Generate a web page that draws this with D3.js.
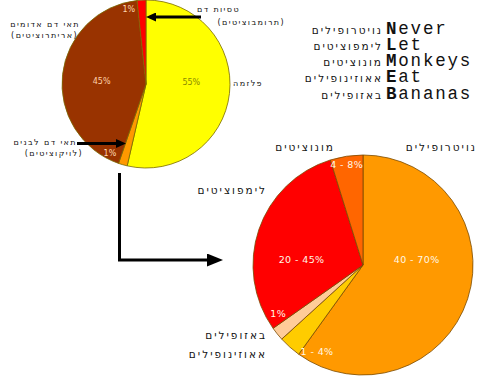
<!DOCTYPE html>
<html>
<head>
<meta charset="utf-8">
<script src="https://cdn.jsdelivr.net/npm/d3@7"></script>
<style>
  body { margin: 0; background: #fff; }
  svg { display: block; }
  .heb { font-family: "DejaVu Sans", sans-serif; fill: #111; }
  .pct { font-family: "DejaVu Sans", Verdana, sans-serif; }
</style>
</head>
<body>
<svg width="480" height="380"></svg>
<script>
// blood composition (top pie)
var bloodParts = ["פלזמה", "תאי דם לבנים", "תאי דם אדומים", "טסיות דם"];
var bloodShare = [53.6, 1.7, 43, 1.7];
var bloodLabels = ["55%", "1%", "45%", "1%"];

// white cell types (bottom pie)
var cellTypes = ["נויטרופילים", "אאוזינופילים", "באזופילים", "לימפוציטים", "מונוציטים"];
var cellShare = [60, 3.3, 2, 30, 4.8];
var cellLabels = ["40 - 70%", "1 - 4%", "1%", "20 - 45%", "4 - 8%"];

// mnemonic
var mnemonicHeb = ["נויטרופילים", "לימפוציטים", "מונוציטים", "אאוזינופילים", "באזופילים"];
var mnemonicEng = ["Never", "Let", "Monkeys", "Eat", "Bananas"];

function drawChart(){
    var svg = d3.select("svg");

    var bloodColor = d3.scaleOrdinal().domain(bloodParts)
        .range(["#ffff00", "#ff9900", "#993300", "#ff0000"]);
    var cellColor = d3.scaleOrdinal().domain(cellTypes)
        .range(["#ff9900", "#ffcc00", "#ffcc99", "#ff0000", "#ff6600"]);

    var pie = d3.pie().sort(null).value(function(d){ return d.v; });

    // ---- top pie
    var top = {cx: 146, cy: 84, r: 84};
    var topData = pie(bloodParts.map(function(k, i){ return {k: k, v: bloodShare[i], lab: bloodLabels[i]}; }));
    var topArc = d3.arc().innerRadius(0).outerRadius(top.r);
    // label angle (deg) and radius fraction
    var topLabPos = [[88, .54], [207.5, .93], [274, .53], [347, .91]];
    var topLabCol = ["#8a8a00", "#ffd8b0", "#ffd0a8", "#ffd8b0"];

    var gTop = svg.append("g").attr("transform", "translate(" + top.cx + "," + top.cy + ")");
    gTop.selectAll("path").data(topData).enter().append("path")
        .attr("d", topArc)
        .attr("fill", function(d){ return bloodColor(d.data.k); })
        .attr("stroke", "#7a6a00")
        .attr("stroke-width", 0.8);
    gTop.selectAll("text").data(topData).enter().append("text")
        .attr("class", "pct")
        .attr("transform", function(d, i){
            var p = d3.pointRadial(topLabPos[i][0] * Math.PI / 180, topLabPos[i][1] * top.r);
            return "translate(" + p + ")"; })
        .attr("text-anchor", "middle")
        .attr("dy", "0.35em")
        .style("font-size", "8px")
        .attr("fill", function(d, i){ return topLabCol[i]; })
        .text(function(d){ return d.data.lab; });

    // ---- bottom pie
    var bot = {cx: 363, cy: 265, r: 110};
    var botData = pie(cellTypes.map(function(k, i){ return {k: k, v: cellShare[i], lab: cellLabels[i]}; }));
    var botArc = d3.arc().innerRadius(0).outerRadius(bot.r);
    var botLabPos = [[84.7, .49], [208, .89], [240, .89], [274.7, .56], [350.7, .92]];

    var gBot = svg.append("g").attr("transform", "translate(" + bot.cx + "," + bot.cy + ")");
    gBot.selectAll("path").data(botData).enter().append("path")
        .attr("d", botArc)
        .attr("fill", function(d){ return cellColor(d.data.k); })
        .attr("stroke", "#7a4a00")
        .attr("stroke-width", 0.8);
    gBot.selectAll("text").data(botData).enter().append("text")
        .attr("class", "pct")
        .attr("transform", function(d, i){
            var p = d3.pointRadial(botLabPos[i][0] * Math.PI / 180, botLabPos[i][1] * bot.r);
            return "translate(" + p + ")"; })
        .attr("text-anchor", "middle")
        .attr("dy", "0.35em")
        .style("font-size", "9.5px")
        .style("letter-spacing", "0.4px")
        .attr("fill", "#fff8e6")
        .text(function(d){ return d.data.lab; });

    // ---- hebrew callouts, right aligned (letter-spaced to look typewritten)
    var notes = [
        {t: "תאי דם אדומים", x: 80, y: 27, s: 8, ls: 1.4},
        {t: "(אריתרוציטים)", x: 78, y: 38, s: 8, ls: 1.4},
        {t: "טסיות דם", x: 240, y: 12, s: 8, ls: 1.4},
        {t: "(תרומבוציטים)", x: 285, y: 25, s: 8, ls: 1.4},
        {t: "פלזמה", x: 263, y: 85.5, s: 8, ls: 1.4},
        {t: "תאי דם לבנים", x: 77, y: 144.5, s: 8, ls: 1.4},
        {t: "(לויקוציטים)", x: 83, y: 156, s: 8, ls: 1.4},
        {t: cellTypes[0], x: 477, y: 151, s: 10.5, ls: 2},
        {t: cellTypes[4], x: 335, y: 151, s: 10.5, ls: 2},
        {t: cellTypes[3], x: 267, y: 194, s: 10.5, ls: 2},
        {t: cellTypes[2], x: 267, y: 338.5, s: 10.5, ls: 2},
        {t: cellTypes[1], x: 267, y: 358, s: 10.5, ls: 2}
    ];
    svg.append("g").selectAll("text").data(notes).enter().append("text")
        .attr("class", "heb")
        .attr("x", function(d){ return d.x; })
        .attr("y", function(d){ return d.y; })
        .attr("text-anchor", "end")
        .style("font-size", function(d){ return d.s + "px"; })
        .style("letter-spacing", function(d){ return d.ls + "px"; })
        .text(function(d){ return d.t; });

    // ---- mnemonic
    var mn = svg.append("g").selectAll("g").data(mnemonicEng).enter().append("g")
        .attr("transform", function(d, i){ return "translate(0," + (33.5 + i * 16.25) + ")"; });
    mn.append("text")
        .attr("class", "heb")
        .attr("x", 383)
        .attr("text-anchor", "end")
        .style("font-size", "10.5px")
        .style("letter-spacing", "2px")
        .text(function(d, i){ return mnemonicHeb[i]; });
    var eng = mn.append("text")
        .attr("x", 386)
        .style("font-family", "Liberation Mono, monospace")
        .style("font-size", "17.5px")
        .style("letter-spacing", "1.8px")
        .attr("fill", "#111");
    eng.append("tspan").style("font-weight", "bold").text(function(d){ return d.charAt(0); });
    eng.append("tspan").text(function(d){ return d.slice(1); });

    // ---- arrows
    var defs = svg.append("defs");
    function head(id, w, h){
        defs.append("marker")
            .attr("id", id)
            .attr("viewBox", "0 0 " + w + " " + (2 * h))
            .attr("refX", 0).attr("refY", h)
            .attr("markerUnits", "userSpaceOnUse")
            .attr("markerWidth", w).attr("markerHeight", 2 * h)
            .attr("orient", "auto")
          .append("path")
            .attr("d", "M0,0L" + w + "," + h + "L0," + (2 * h) + "Z")
            .attr("fill", "#000");
    }
    head("hSmall", 10, 4.5);
    head("hBig", 16, 6.5);

    var line = d3.line();
    svg.append("path")
        .attr("d", line([[201, 17], [156, 17]]))
        .attr("fill", "none").attr("stroke", "#000").attr("stroke-width", 3.2)
        .attr("marker-end", "url(#hSmall)");
    svg.append("path")
        .attr("d", line([[77, 143.5], [116, 143.5]]))
        .attr("fill", "none").attr("stroke", "#000").attr("stroke-width", 3.2)
        .attr("marker-end", "url(#hSmall)");
    svg.append("path")
        .attr("d", line([[119.5, 173], [119.5, 260], [207, 260]]))
        .attr("fill", "none").attr("stroke", "#000").attr("stroke-width", 3)
        .attr("marker-end", "url(#hBig)");
}
drawChart();
</script>
</body>
</html>
